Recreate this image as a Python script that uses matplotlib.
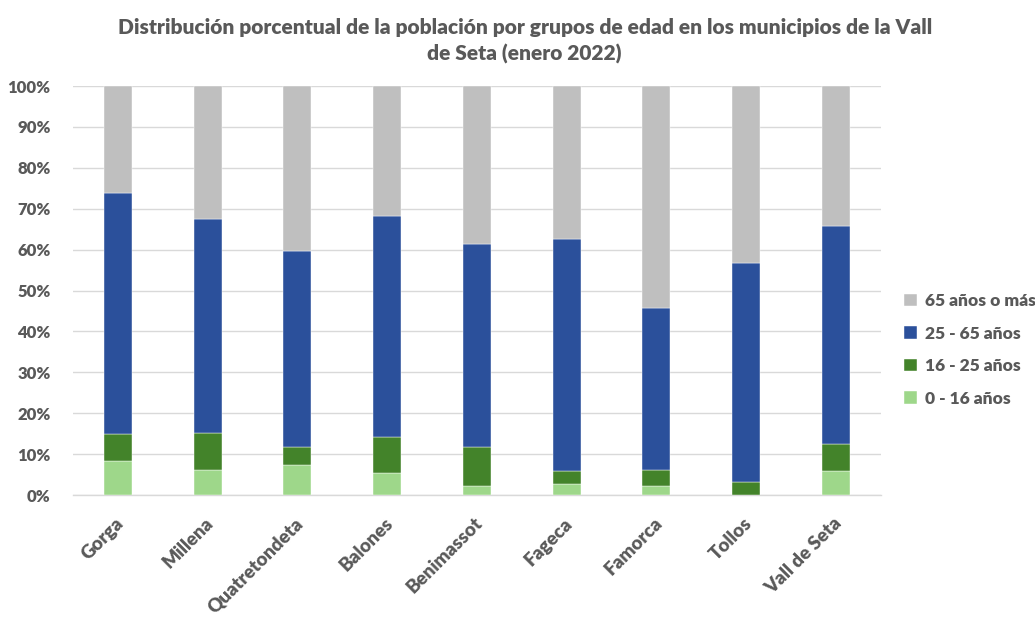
import matplotlib
matplotlib.use("Agg")
import matplotlib.pyplot as plt
import numpy as np
from matplotlib.ticker import PercentFormatter
from matplotlib.transforms import ScaledTranslation

municipios = ["Gorga", "Millena", "Quatretondeta", "Balones", "Benimassot",
              "Fageca", "Famorca", "Tollos", "Vall de Seta"]
# segment sizes (percent)
edad_0_16 = [8.2, 6.1, 7.3, 5.5, 2.2, 2.8, 2.2, 0.0, 5.9]
edad_16_25 = [6.7, 9.1, 4.5, 8.8, 9.6, 3.0, 3.9, 3.3, 6.6]
edad_25_65 = [58.9, 52.2, 47.8, 54.0, 49.5, 56.7, 39.6, 53.4, 53.3]
edad_65_mas = [26.2, 32.6, 40.4, 31.7, 38.7, 37.5, 54.3, 43.3, 34.2]

series = [
    ("0 - 16 años", edad_0_16, "#9ED78A"),
    ("16 - 25 años", edad_16_25, "#43832A"),
    ("25 - 65 años", edad_25_65, "#2B509B"),
    ("65 años o más", edad_65_mas, "#BFBFBF"),
]

TXT = "#595959"
plt.rcParams['font.family'] = ['Lato', 'DejaVu Sans']
W = "heavy"

fig = plt.figure(figsize=(10.35, 6.19), dpi=100)
ax = fig.add_axes([0.0705, 0.2003, 0.7805, 0.6607])

x = np.arange(len(municipios))
bottom = np.zeros(len(municipios))
handles = []
for name, vals, col in series:
    v = np.array(vals)
    b = ax.bar(x, v, 0.31, bottom=bottom, color=col, label=name, zorder=3,
               edgecolor="white", linewidth=0.3)
    handles.append(b)
    bottom += v

ax.set_xlim(-0.5, len(municipios) - 0.5)
ax.set_ylim(0, 100)
ax.set_yticks(np.arange(0, 101, 10))
ax.yaxis.set_major_formatter(PercentFormatter(decimals=0))
ax.grid(axis="y", color="#D9D9D9", linewidth=1, zorder=0)
for s in ["top", "right", "left"]:
    ax.spines[s].set_visible(False)
ax.spines["bottom"].set_color("#D9D9D9")
ax.spines["bottom"].set_linewidth(1)
ax.tick_params(axis="both", length=0)
ax.tick_params(axis="y", labelsize=12, labelcolor=TXT, pad=16)
for lab in ax.get_yticklabels():
    lab.set_fontweight(W)

ax.set_xticks(x)
ax.set_xticklabels(municipios, rotation=45, ha="right", va="top",
                   rotation_mode="anchor",
                   fontsize=13.5, fontweight=W, color=TXT)
ax.tick_params(axis="x", pad=14)
off = ScaledTranslation(-3 / 100, 0, fig.dpi_scale_trans)
for lab in ax.get_xticklabels():
    lab.set_transform(lab.get_transform() + off)

fig.text(0.507, 0.934,
         "Distribución porcentual de la población por grupos de edad en los municipios de la Vall\nde Seta (enero 2022)",
         ha="center", va="center", fontsize=15, fontweight=W, color=TXT,
         linespacing=1.45)

leg = ax.legend(handles[::-1], [s[0] for s in series][::-1],
                loc="center left", bbox_to_anchor=(1.01, 0.355), frameon=False,
                prop={"size": 12.5, "weight": W}, handlelength=0.7,
                handleheight=0.7, handletextpad=0.5, labelspacing=0.95)
for t in leg.get_texts():
    t.set_color(TXT)

fig.savefig("out.png", dpi=100)
